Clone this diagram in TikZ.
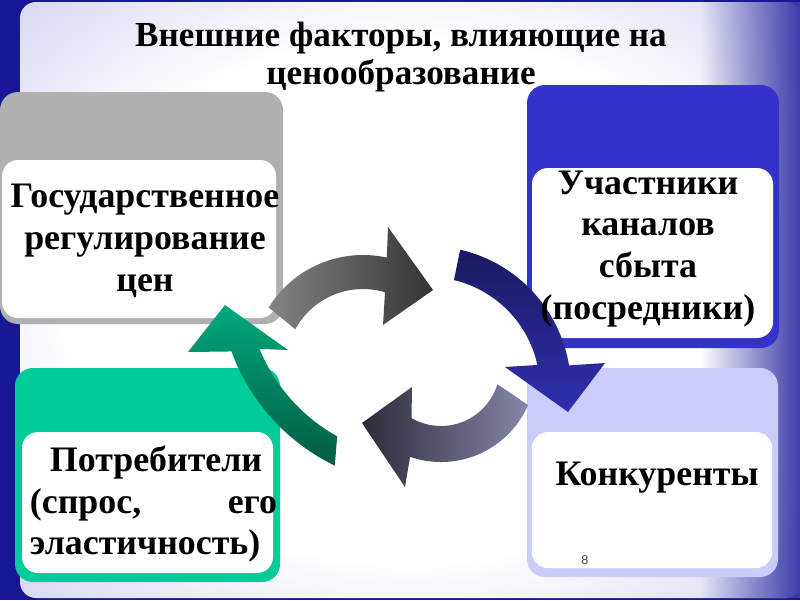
\documentclass[tikz,border=0pt]{standalone}
\usepackage{fontspec}
\setmainfont{Liberation Serif}
\newfontfamily\numfont{Liberation Sans}
\usetikzlibrary{calc,fadings}
\definecolor{framebl}{RGB}{24,24,150}
\definecolor{panelbl}{RGB}{172,172,228}
\definecolor{greybox}{RGB}{176,176,176}
\definecolor{bluebox}{RGB}{51,51,204}
\definecolor{tealbox}{RGB}{0,204,153}
\definecolor{lilacbox}{RGB}{204,204,250}
\pgfdeclareradialshading{panelshade}{\pgfpoint{0bp}{0bp}}{color(0bp)=(white); color(22bp)=(white); color(50bp)=(panelbl); color(100bp)=(panelbl)}
\tikzfading[name=edgefade, left color=transparent!100, right color=transparent!0]
\tikzset{boxtext/.style={font=\fontsize{25.5}{29.8}\selectfont\bfseries, align=center, inner sep=0pt}, outerbox/.style={rounded corners=0.45cm}, whitebox/.style={fill=white, rounded corners=0.4cm}, titletext/.style={font=\fontsize{25}{27}\selectfont\bfseries, align=center, inner sep=0pt}}
\begin{document}
\begin{tikzpicture}[x=0.025cm,y=-0.025cm]
\useasboundingbox (0,0) rectangle (800,600);
% background
\fill[framebl] (0,0) rectangle (800,600);
\shade[shading=panelshade, rounded corners=0.4cm] (20,2) rectangle (802,598);
\fill[framebl!75!panelbl, path fading=edgefade] (700,2) rectangle (800,598);
% boxes
\fill[greybox, outerbox] (0,92) rectangle (283,324);
\fill[whitebox] (2,160) rectangle (276,318);
\fill[bluebox, outerbox] (527,85) rectangle (779,348);
\fill[whitebox] (532,168) rectangle (773,338);
\fill[tealbox, outerbox] (15,368) rectangle (280,582);
\fill[whitebox] (22,432) rectangle (273,573);
\fill[lilacbox, outerbox] (527,368) rectangle (778,577);
\fill[whitebox] (532,432) rectangle (772,568);
% arrows
\coordinate (ctop) at (363,366);
\coordinate (cblue) at (428,389);
\coordinate (cbot) at (441,367);
\coordinate (cgreen) at (424,281);
\shade[left color={rgb,255:red,132;green,132;blue,132}, right color={rgb,255:red,52;green,52;blue,52}] ($(ctop)+(211.8:111)$) arc[start angle=211.8, end angle=282.4, radius=111] -- (388,227) -- (433,290) -- (383,325) -- ($(ctop)+(286.6:77)$) arc[start angle=286.6, end angle=208.5, radius=77] -- cycle;
\shade[top color={rgb,255:red,26;green,26;blue,96}, bottom color={rgb,255:red,48;green,48;blue,178}] ($(cblue)+(283:143)$) arc[start angle=283, end angle=350.5, radius=143] -- (605,363) -- (568,412) -- (505,367) -- ($(cblue)+(347.6:112)$) arc[start angle=347.6, end angle=283.4, radius=112] -- cycle;
\shade[left color={rgb,255:red,44;green,44;blue,58}, right color={rgb,255:red,134;green,134;blue,168}] ($(cbot)+(23.6:95)$) arc[start angle=23.6, end angle=109, radius=95] -- (405,487) -- (362,423) -- (412,387) -- ($(cbot)+(120:59)$) arc[start angle=120, end angle=17, radius=59] -- cycle;
\shade[top color={rgb,255:red,0;green,168;blue,124}, bottom color={rgb,255:red,0;green,92;blue,66}] ($(cgreen)+(115.8:205)$) arc[start angle=115.8, end angle=159.9, radius=205] -- (188,352) -- (225,305) -- (288,350) -- ($(cgreen)+(157.6:178)$) arc[start angle=157.6, end angle=119.2, radius=178] -- cycle;
% texts
\node[titletext] (title) at (401,57) {Внешние факторы, влияющие на\\ценообразование};
\node[boxtext] (gos) at (145,241) {Государственное\\регулирование\\цен};
\node[boxtext] (uch) at (648,249) {Участники\\каналов\\сбыта\\(посредники)};
\node[boxtext, align=left, text width=6.175cm] (potr) at (153.5,504) {\hspace*{0.5cm}Потребители\\(спрос,\hfill его\\эластичность)};
\node[boxtext, anchor=base] (konk) at (657,485) {Конкуренты};
\node[font=\numfont\fontsize{9}{10}\selectfont, text={rgb,255:red,70;green,70;blue,70}, inner sep=0pt] (num) at (585,560) {8};
\end{tikzpicture}
\end{document}
